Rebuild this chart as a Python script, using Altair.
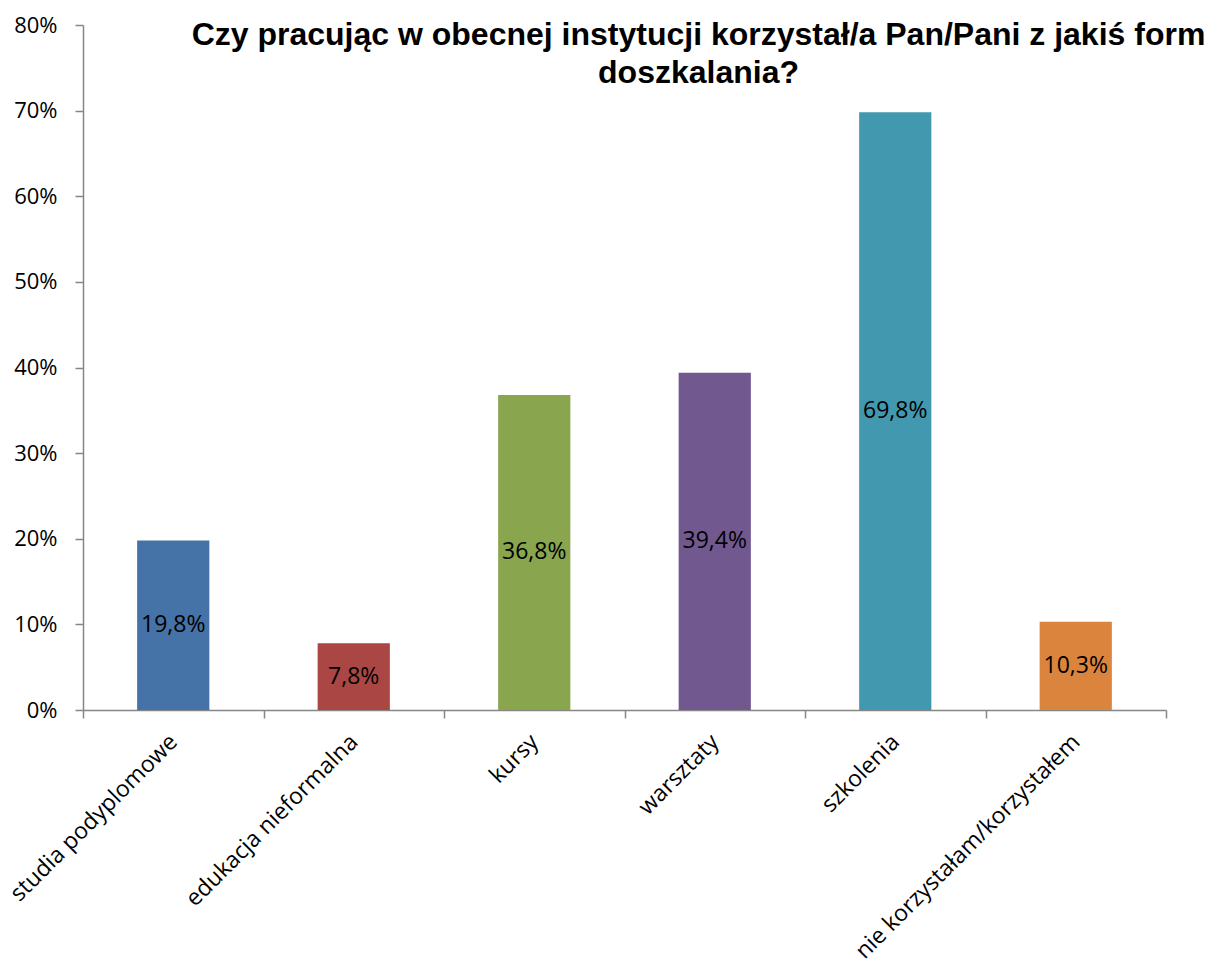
import altair as alt
import pandas as pd

categories = ["studia podyplomowe", "edukacja nieformalna", "kursy", "warsztaty",
              "szkolenia", "nie korzystałam/korzystałem"]
values = [0.198, 0.078, 0.368, 0.394, 0.698, 0.103]
colors = ["#4572A7", "#AA4643", "#89A54E", "#71588F", "#4198AF", "#DB843D"]
labels = [f"{v*100:.1f}".replace(".", ",") + "%" for v in values]

df = pd.DataFrame({"cat": categories, "value": values, "label": labels, "color": colors})

x = alt.X("cat:N", sort=categories,
          scale=alt.Scale(paddingInner=0, paddingOuter=0),
          axis=alt.Axis(title=None, labelAngle=-45, labelAlign="right", labelBaseline="middle",
                        labelFont="Open Sans", labelFontSize=23, labelColor="#000000",
                        labelPadding=20, tickBand="extent", tickSize=8, tickColor="#868686",
                        tickWidth=1.5, domainColor="#868686", domainWidth=1.5, labelLimit=0))

bars = alt.Chart(df).mark_bar(width=alt.RelativeBandSize(0.4)).encode(
    x=x,
    y=alt.Y("value:Q", scale=alt.Scale(domain=[0, 0.8]),
            axis=alt.Axis(title=None, format=".0%", values=[i / 10 for i in range(9)],
                          labelFont="Open Sans", labelFontSize=22, labelColor="#000000",
                          labelPadding=18, tickSize=8, tickColor="#868686", tickWidth=1.5,
                          domainColor="#868686", domainWidth=1.5, grid=False)),
    color=alt.Color("color:N", scale=None),
)

text = alt.Chart(df).transform_calculate(mid="datum.value / 2").mark_text(
    font="Open Sans", fontSize=23, color="#000000", baseline="middle", align="center"
).encode(
    x=alt.X("cat:N", sort=categories),
    y=alt.Y("mid:Q"),
    text="label:N",
)

chart = alt.layer(bars, text).properties(
    width=1083, height=685,
    autosize=alt.AutoSizeParams(type="none"),
    padding={"left": 75, "top": 17, "right": 47, "bottom": 253},
    title=alt.TitleParams(
        ["Czy pracując w obecnej instytucji korzystał/a Pan/Pani z jakiś form", "doszkalania?"],
        font="Liberation Sans", fontSize=32, fontWeight="bold", color="#000000",
        anchor="middle", baseline="top", dx=74, dy=76, lineHeight=38, offset=0),
).configure(background="white").configure_view(stroke=None)

chart.save("out.html", embed_options={"renderer": "svg", "actions": False})
